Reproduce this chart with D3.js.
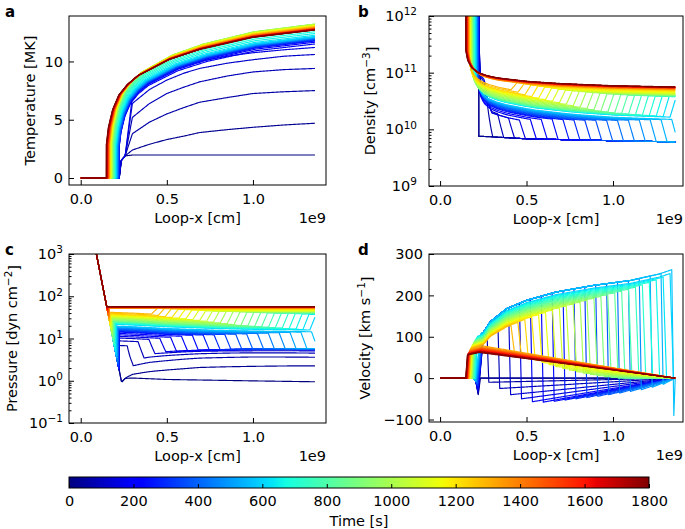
<!DOCTYPE html>
<html><head><meta charset="utf-8">
<script src="https://cdn.jsdelivr.net/npm/d3@7"></script>
<style>
body{margin:0;background:#fff}
svg{display:block}
text{font-family:"DejaVu Sans",sans-serif;fill:#000}
</style>
</head><body>
<svg id="fig" width="685" height="529"></svg>
<script>
// ================= DATA =================
// snapshot times [s]
const timeS = [0,30,60,90,120,150,180,210,240,270,300,330,360,390,420,450,480,510,540,570,
  600,630,660,690,720,750,780,810,840,870,900,930,960,990,1020,1050,1080,1110,1140,1170,
  1200,1230,1260,1290,1320,1350,1380,1410,1440,1470,1500,1530,1560,1590,1620,1650,1680,1710,1740,1770,1800];
// apex (loop-top) temperature of each snapshot [MK]
const tmaxMK = [2.0,4.7,7.5,9.4,10.6,11.2,11.5,11.65,11.75,11.8,11.85,11.9,11.92,11.95,11.98,12.0,12.02,12.05,12.08,12.1,
  12.15,12.25,12.4,12.55,12.7,12.85,12.95,13.05,13.1,13.15,13.18,13.2,13.2,13.2,13.18,13.15,13.12,13.1,13.07,13.05,
  13.02,13.0,12.98,12.95,12.93,12.9,12.88,12.86,12.84,12.82,12.8,12.79,12.78,12.77,12.76,12.75,12.74,12.73,12.72,12.71,12.7];
// transition-region position vs time [1e9 cm]
const trTime = [0,300,600,900,1200,1500,1800];
const trX    = [0.224,0.221,0.205,0.185,0.17,0.158,0.148];
// conductive temperature profile shape: fraction of apex T vs normalised distance from the TR
const shapeU = [0,0.01,0.03,0.06,0.1,0.15,0.3,0.45,0.7,1.0];
const shapeG = [0.22,0.34,0.46,0.56,0.63,0.69,0.8,0.87,0.95,1.0];
// first snapshots (t = 0 ... 150 s): temperatures read directly [MK]
const earlyX = [0.30,0.40,0.50,0.60,0.69,0.85,1.0,1.18,1.36];
const earlyT = [
  [1.97,1.97,1.97,1.97,1.97,1.97,1.97,1.97,1.97],
  [2.4,2.9,3.3,3.6,3.9,4.15,4.35,4.55,4.7],
  [3.8,4.8,5.5,6.05,6.5,6.9,7.25,7.4,7.5],
  [5.2,6.4,7.25,7.8,8.25,8.75,9.1,9.3,9.4],
  [6.4,7.6,8.4,9.0,9.4,9.85,10.15,10.45,10.6],
  [7.0,8.2,9.0,9.6,10.0,10.45,10.75,11.0,11.2]];
// initial coronal density ahead of the evaporation front [cm^-3]
const aheadX = [0.25,0.5,1.0,1.36];
const aheadN = [7.5e9,6.8e9,6.3e9,6.0e9];
// chromospheric pressure (straight on log axis) [dyn cm^-2]
const chromoX = [0.091,0.227];
const chromoP = [1000,1.5];
// pressure fall-off along the loop behind a front (fraction)
const pShapeX = [0.15,0.3,0.5,0.8,1.0,1.36];
const pShapeF = [1.0,0.95,0.86,0.78,0.75,0.72];
// upflow velocity envelope [km s^-1]
const envX = [0.14,0.25,0.29,0.385,0.5,0.67,0.885,1.1,1.27,1.36];
const envV = [90,110,136,168,188,208,224,236,252,265];
// forward evaporation front (t = 60 ... 570 s)
const fwdFront = [0.27,0.333,0.396,0.459,0.522,0.585,0.648,0.711,0.774,0.837,0.90,0.963,1.026,1.089,1.152,1.215,1.278,1.34];
const fwdPb    = [7,9,10.5,11.5,12.5,13.5,14.5,15,15.5,16,16.5,17,17.5,18,18.5,19,19.5,20];
const fwdVmin  = [-10,-25,-40,-50,-57,-58,-56,-53,-50,-47,-44,-40,-36,-32,-28,-22,-15,-90];
// TR velocity dip (t = 30 ... 570 s)
const dipV = [-40,-38,-35,-32,-30,-28,-25,-22,-20,-18,-16,-14,-12,-10,-9,-8,-7,-6,-5];
// reflected front (t = 600 ... 1290 s)
const refFront = [1.33,1.29,1.25,1.21,1.17,1.13,1.09,1.05,1.01,0.97,0.93,0.89,0.85,0.81,0.77,0.73,0.69,0.65,0.61,0.57,0.53,0.49,0.45,0.41];
const refPf   = [22,22.5,23,23.5,24,24.5,25,25.5,26,26.5,27,28,29,30,31,32,33,34,35,36,37,38,40,42];
const refPr   = [36,37,38,38.5,39,39.5,40,40.5,41,41.5,42,42.5,43,43.5,44,44.5,45,46,47,48,49,50,51,52];
const refVfac = [0.97,0.96,0.95,0.94,0.93,0.92,0.91,0.9,0.89,0.88,0.87,0.86,0.85,0.84,0.83,0.82,0.81,0.8,0.79,0.78,0.77,0.76,0.75,0.74];
const refVp   = [0,0,0,0,0,0,0,0,0,5,10,15,20,25,30,35,40,45,50,55,60,65,70,75];
// late decay (t = 1320 ... 1800 s)
const postP  = [52,52.5,53,53.5,54,54.5,55,55,55.5,55.5,56,56,56,56.5,56.5,56.5,57];
const postVp = [78,76,74,73,72,71,70,69,68,67,66,65,65,64,64,63,62];
// axis ticks
const xTicks = [0,0.5,1.0];
const tTicks = [0,5,10];
const nTicksExp = [9,10,11,12];
const pTicksExp = [-1,0,1,2,3];
const vTicks = [-100,0,100,200,300];
const cbTicks = [0,200,400,600,800,1000,1200,1400,1600,1800];
const K = 8e-11;      // p = K n T   (n in cm^-3, T in MK)
const XEND = 1.36;    // loop apex [1e9 cm]

// ================= helpers =================
const lin = (d,r) => d3.scaleLinear().domain(d).range(r).clamp(true);
const x0At = lin(trTime, trX);
const tShape = lin(shapeU, shapeG);
const naAt = lin(aheadX, aheadN);
const pShape = lin(pShapeX, pShapeF);
const envAt = lin(envX, envV);
const chromoLog = d3.scaleLinear().domain(chromoX).range(chromoP.map(Math.log10));
const ramp = (x,a,w) => Math.max(0, Math.min(1, (x-a)/w));
const blendLog = (a,b,s) => Math.exp(Math.log(a)*(1-s)+Math.log(b)*s);

const jR = lin([0,0.35,0.66,0.89,1],[0,0,1,1,0.5]);
const jG = lin([0,0.125,0.375,0.64,0.91,1],[0,0,1,1,0,0]);
const jB = lin([0,0.11,0.34,0.65,1],[0.5,1,1,0,0]);
const jet = v => d3.rgb(jR(v)*255, jG(v)*255, jB(v)*255).formatHex();
const tColor = t => jet(t/1800);

function snapshot(i){
  const t = timeS[i], x0 = x0At(t);
  let kind = 'init', xf = null;
  if (i>=2 && i<=19){ kind='fwd'; xf = fwdFront[i-2]; }
  else if (i>=20 && i<=43){ kind='ref'; xf = refFront[i-20]; }
  else if (i>=44) kind='post';
  const w = 0.035, wv = 0.012;
  let keys = [0, x0-0.02, x0-0.003, x0, x0+0.0005, x0+0.004, x0+0.01, x0+0.03, x0+0.08, XEND];
  if (xf!==null) keys.push(xf, xf+wv, xf+0.02, xf+w);
  const grid = Array.from(new Set(keys.concat(d3.range(x0+0.002, XEND, 0.005))
      .filter(x=>x>=0 && x<=XEND).map(x=>+x.toFixed(5)))).sort((a,b)=>a-b);

  // temperature
  let Tf;
  if (i < earlyT.length){
    const s = lin([x0, x0+0.012, 0.258].concat(earlyX), [0, 1.5, 1.9].concat(earlyT[i]));
    Tf = x => x<=x0 ? 0 : s(x);
  } else {
    const Tm = tmaxMK[i];
    Tf = x => x<=x0 ? 0 : Tm*tShape((x-x0)/(XEND-x0));
  }
  // coronal pressure
  const pa = x => K*naAt(x)*Tf(x);
  let pc;
  if (kind==='init') pc = pa;
  else if (kind==='fwd'){ const Pb=fwdPb[i-2]; pc = x => blendLog(Pb*pShape(x), Math.max(pa(x),1e-3), ramp(x,xf,w)); }
  else if (kind==='ref'){ const Pf=refPf[i-20], Pr=refPr[i-20]; pc = x => blendLog(Pf*pShape(x), Pr, ramp(x,xf,w)); }
  else { const P=postP[i-44]; pc = x => P; }
  const pf = x => { const ch = Math.pow(10, chromoLog(x)); return x<=x0 ? ch : Math.max(ch, pc(x)); };
  const nf = x => x<=x0 ? 1e13 : (kind==='init' ? naAt(x) : pc(x)/(K*Math.max(Tf(x),1e-3)));
  // velocity
  let vf;
  if (i===0) vf = x => 0;
  else if (kind==='init'){ const d=dipV[0];
    vf = x => x<x0-0.02 ? 0 : x<x0-0.003 ? d*(x-(x0-0.02))/0.017 : x<x0+0.01 ? d*(1-(x-(x0-0.003))/0.013) : 0; }
  else if (kind==='fwd'){ const d=dipV[i-1], vm=fwdVmin[i-2], a=x0+0.03, ea=envAt(a);
    vf = x => {
      if (x<x0-0.02) return 0;
      if (x<x0-0.003) return d*(x-(x0-0.02))/0.017;
      if (x<a) return d + (ea-d)*(x-(x0-0.003))/(a-(x0-0.003));
      if (x<=xf) return envAt(x);
      if (x<=xf+wv) return envAt(xf) + (vm-envAt(xf))*(x-xf)/wv;
      return vm*(XEND-x)/(XEND-xf-wv);
    }; }
  else if (kind==='ref'){ const fac=refVfac[i-20], Vp=refVp[i-20];
    const ap = x => Vp*Math.min(1,(XEND-x)/(XEND-x0-0.08));
    vf = x => {
      if (x<=x0) return 0;
      const foot = envAt(x)*fac*ramp(x,x0,0.012);
      if (x<=xf) return foot;
      if (x<=xf+0.02) return envAt(xf)*fac + (ap(xf+0.02)-envAt(xf)*fac)*(x-xf)/0.02;
      return ap(x);
    }; }
  else { const Vp=postVp[i-44];
    vf = x => x<=x0 ? 0 : x<x0+0.01 ? 0.9*Vp*(x-x0)/0.01 : x<x0+0.08 ? Vp*(0.9+0.1*(x-x0-0.01)/0.07) : Vp*(XEND-x)/(XEND-x0-0.08); }

  return {t, pts: grid.map(x=>({x, T:Tf(x), n:nf(x), p:pf(x), v:vf(x)}))};
}
const snaps = timeS.map((_,i)=>snapshot(i));

// ================= DRAW =================
const svg = d3.select('#fig');
const FS = 14.5;
const defs = svg.append('defs');

function panel(o){
  const g = svg.append('g');
  const [L,R,T,B] = o.box;
  const id = 'clip'+o.letter;
  defs.append('clipPath').attr('id',id).append('rect').attr('x',L).attr('y',T).attr('width',R-L).attr('height',B-T);
  const lg = g.append('g').attr('clip-path',`url(#${id})`);
  const line = d3.line().x(d=>o.x(d.x)).y(d=>o.y(Math.max(o.clampMin, Math.min(o.clampMax, d[o.key]))));
  snaps.forEach(s=>{
    lg.append('path').attr('d',line(s.pts)).attr('fill','none')
      .attr('stroke',tColor(s.t)).attr('stroke-width',1.15).attr('stroke-linejoin','round');
  });
  // frame
  g.append('rect').attr('x',L).attr('y',T).attr('width',R-L).attr('height',B-T)
    .attr('fill','none').attr('stroke','#000').attr('stroke-width',1);
  // x axis (ticks inside)
  const xa = g.append('g').attr('transform',`translate(0,${B})`)
    .call(d3.axisBottom(o.x).tickValues(xTicks).tickFormat(d3.format('.1f')).tickSize(-5).tickPadding(9));
  xa.select('.domain').remove();
  xa.selectAll('text').attr('font-size',FS).attr('font-family','DejaVu Sans');
  xa.selectAll('line').attr('stroke','#000');
  // y axis
  const ya = g.append('g').attr('transform',`translate(${L},0)`);
  if (o.log){
    const maj = o.exps.map(e=>Math.pow(10,e));
    const minor = [];
    o.exps.slice(0,-1).forEach(e=>{ for(let m=2;m<=9;m++) minor.push(m*Math.pow(10,e)); });
    ya.call(d3.axisLeft(o.y).tickValues(minor).tickFormat('').tickSize(-2.5));
    ya.select('.domain').remove();
    const yb = g.append('g').attr('transform',`translate(${L},0)`)
      .call(d3.axisLeft(o.y).tickValues(maj).tickFormat('').tickSize(-5));
    yb.select('.domain').remove();
    g.selectAll('.tick line').attr('stroke','#000');
    o.exps.forEach(e=>{
      const tx = g.append('text').attr('x',o.labX).attr('y',o.y(Math.pow(10,e))).attr('dy','0.35em')
        .attr('text-anchor','end').attr('font-size',FS);
      tx.append('tspan').text('10');
      tx.append('tspan').attr('dy','-0.55em').attr('font-size',10.5).text(e<0?'\u2212'+(-e):String(e));
    });
  } else {
    ya.call(d3.axisLeft(o.y).tickValues(o.yt).tickFormat(d=>d<0?'\u2212'+(-d):String(d)).tickSize(-5).tickPadding(L-o.labX));
    ya.select('.domain').remove();
    ya.selectAll('text').attr('font-size',FS).attr('font-family','DejaVu Sans');
    ya.selectAll('line').attr('stroke','#000');
  }
  // labels
  g.append('text').attr('x',(L+R)/2).attr('y',B+38).attr('text-anchor','middle').attr('font-size',FS).text('Loop-x [cm]');
  g.append('text').attr('x',R).attr('y',B+38).attr('text-anchor','end').attr('font-size',FS).text('1e9');
  const yl = g.append('text').attr('transform',`translate(${o.ylx},${(T+B)/2}) rotate(-90)`)
    .attr('text-anchor','middle').attr('font-size',FS);
  o.ylab.forEach(p=>{ const ts=yl.append('tspan').text(p.t); if(p.sup){ts.attr('dy','-0.5em').attr('font-size',10.5);} if(p.down){ts.attr('dy','0.5em');} });
  g.append('text').attr('x',o.letX).attr('y',T+1).attr('font-size',15).attr('font-weight','bold').text(o.letter);
}

const boxA=[69,326,16,185], boxB=[429,683,16,186], boxC=[69,326,254,423], boxD=[429,683,254,422];
const xAC = d3.scaleLinear().domain([-0.068,1.424]).range([69,326]);
const xBD = d3.scaleLinear().domain([-0.064,1.405]).range([429,683]);

panel({letter:'a', box:boxA, x:xAC, y:d3.scaleLinear().domain([-0.6,13.9]).range([185,16]),
  key:'T', clampMin:-5, clampMax:50, yt:tTicks, labX:63, ylx:35, letX:5,
  ylab:[{t:'Temperature [MK]'}]});
panel({letter:'b', box:boxB, x:xBD, y:d3.scaleLog().domain([1e9,1e12]).range([186,16]),
  key:'n', clampMin:1e8, clampMax:1e14, log:true, exps:nTicksExp, labX:417, ylx:375, letX:358,
  ylab:[{t:'Density [cm'},{t:'\u22123',sup:true},{t:']',down:true}]});
panel({letter:'c', box:boxC, x:xAC, y:d3.scaleLog().domain([0.1,1000]).range([423,254]),
  key:'p', clampMin:1e-3, clampMax:1e6, log:true, exps:pTicksExp, labX:63, ylx:17, letX:5,
  ylab:[{t:'Pressure [dyn cm'},{t:'\u22122',sup:true},{t:']',down:true}]});
panel({letter:'d', box:boxD, x:xBD, y:d3.scaleLinear().domain([-106,300]).range([422,254]),
  key:'v', clampMin:-1000, clampMax:1000, yt:vTicks, labX:423, ylx:370, letX:358,
  ylab:[{t:'Velocity [km s'},{t:'\u22121',sup:true},{t:']',down:true}]});

// ================= colorbar =================
const cbx = d3.scaleLinear().domain([0,1800]).range([69,649]);
const grad = defs.append('linearGradient').attr('id','jetg').attr('x1','0%').attr('x2','100%').attr('y1','0%').attr('y2','0%');
[0,0.11,0.125,0.34,0.35,0.375,0.64,0.65,0.66,0.89,0.91,1].forEach(s=>grad.append('stop').attr('offset',s).attr('stop-color',jet(s)));
const cbT=477, cbB=488;
svg.append('rect').attr('x',69).attr('y',cbT).attr('width',580).attr('height',cbB-cbT).attr('fill','url(#jetg)').attr('stroke','#000').attr('stroke-width',1);
const cba = svg.append('g').attr('transform',`translate(0,${cbB})`)
  .call(d3.axisBottom(cbx).tickValues(cbTicks).tickSize(-4).tickPadding(8).tickFormat(d3.format('d')));
cba.select('.domain').remove();
cba.selectAll('text').attr('font-size',FS).attr('font-family','DejaVu Sans');
cba.selectAll('line').attr('stroke','#000');
svg.append('text').attr('x',359).attr('y',526).attr('text-anchor','middle').attr('font-size',FS).text('Time [s]');
</script>
</body></html>
